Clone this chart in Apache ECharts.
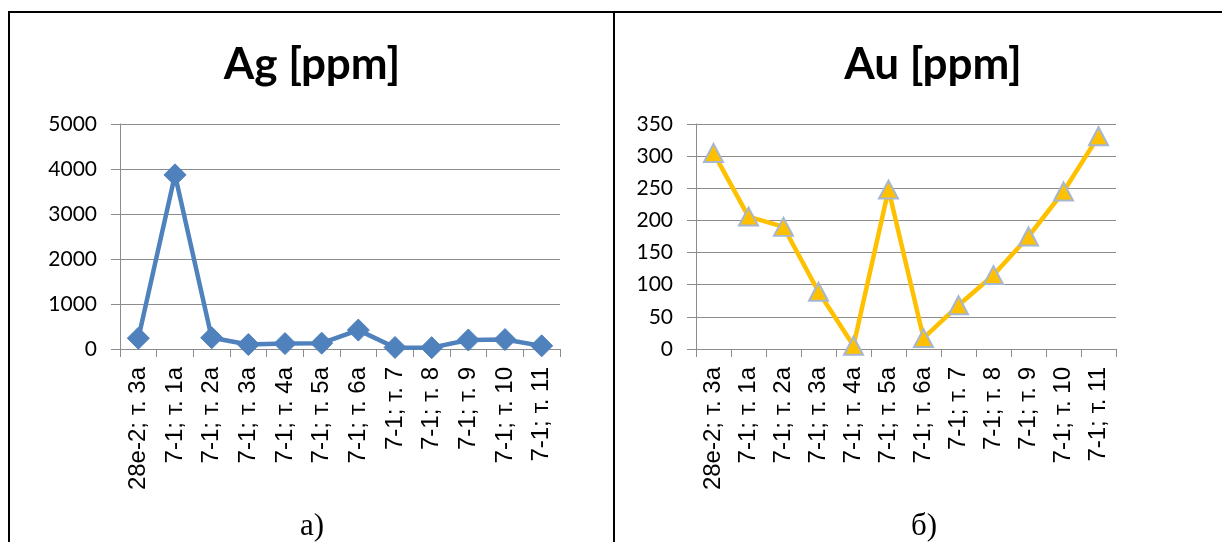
<!DOCTYPE html>
<html>
<head>
<meta charset="utf-8">
<script src="https://cdn.jsdelivr.net/npm/echarts@6/dist/echarts.min.js"></script>
<style>
  html, body { margin: 0; padding: 0; background: #fff; }
  #chart { width: 1222px; height: 542px; }
</style>
</head>
<body>
<div id="chart"></div>
<script>
// Sampling points (same for both panels)
const sampleLabels = ['28е-2; т. 3а', '7-1; т. 1а', '7-1; т. 2а', '7-1; т. 3а', '7-1; т. 4а', '7-1; т. 5а',
  '7-1; т. 6а', '7-1; т. 7', '7-1; т. 8', '7-1; т. 9', '7-1; т. 10', '7-1; т. 11'];

// Silver content, ppm
const agValues = [240, 3870, 250, 100, 120, 130, 420, 35, 30, 200, 210, 70];
// Gold content, ppm
const auValues = [305, 206, 190, 89, 5, 248, 17, 68, 115, 175, 245, 331];

const panelTitles = ['Ag [ppm]', 'Au [ppm]'];
const panelCaptions = ['а)', 'б)'];

const chart = echarts.init(document.getElementById('chart'), null, { renderer: 'canvas' });

const gridColor = '#8c8c8c';
const valueFont = 'Lato, Carlito, "Noto Sans", sans-serif';
const catFont = '"Liberation Sans", Arial, sans-serif';

function catAxis(gridIndex) {
  return {
    type: 'category',
    gridIndex,
    data: sampleLabels,
    boundaryGap: true,
    axisLine: { lineStyle: { color: gridColor, width: 1 } },
    axisTick: { show: true, length: 8, alignWithLabel: false, lineStyle: { color: gridColor } },
    axisLabel: {
      interval: 0, rotate: 90, margin: 18,
      fontFamily: catFont, fontSize: 24, color: '#000'
    },
    splitLine: { show: false }
  };
}

function valAxis(gridIndex, max, interval) {
  return {
    type: 'value',
    gridIndex,
    min: 0, max, interval,
    axisLine: { show: true, lineStyle: { color: gridColor, width: 1 } },
    axisTick: { show: true, length: 9, lineStyle: { color: gridColor } },
    axisLabel: { margin: 23, fontFamily: valueFont, fontSize: 21, color: '#000',
      formatter: (v) => String(v) },
    splitLine: { show: true, lineStyle: { color: gridColor, width: 1 } }
  };
}

const option = {
  backgroundColor: '#ffffff',
  animation: false,
  title: [
    { text: panelTitles[0], left: 307, top: 38, textAlign: 'center',
      textStyle: { fontFamily: valueFont, fontWeight: 'bold', fontSize: 44, color: '#000' } },
    { text: panelTitles[1], left: 928, top: 38, textAlign: 'center',
      textStyle: { fontFamily: valueFont, fontWeight: 'bold', fontSize: 44, color: '#000' } }
  ],
  grid: [
    { left: 120, top: 124, width: 440, height: 225 },
    { left: 696, top: 124, width: 420, height: 225 }
  ],
  xAxis: [catAxis(0), catAxis(1)],
  yAxis: [valAxis(0, 5000, 1000), valAxis(1, 350, 50)],
  series: [
    {
      type: 'line', xAxisIndex: 0, yAxisIndex: 0,
      data: agValues,
      symbol: 'diamond', symbolSize: 22,
      lineStyle: { color: '#4f81bd', width: 4.5 },
      itemStyle: { color: '#4f81bd', borderColor: '#4f81bd', borderWidth: 1 }
    },
    {
      type: 'line', xAxisIndex: 1, yAxisIndex: 1,
      data: auValues,
      symbol: 'triangle', symbolSize: [19, 18],
      lineStyle: { color: '#ffc000', width: 4.5 },
      itemStyle: { color: '#ffc000', borderColor: '#a7b7d0', borderWidth: 2 }
    }
  ],
  graphic: [
    // panel frame
    { type: 'line', shape: { x1: 8, y1: 12, x2: 1222, y2: 12 }, style: { stroke: '#000', lineWidth: 2 } },
    { type: 'line', shape: { x1: 9, y1: 11, x2: 9, y2: 542 }, style: { stroke: '#000', lineWidth: 2 } },
    { type: 'line', shape: { x1: 614, y1: 11, x2: 614, y2: 542 }, style: { stroke: '#000', lineWidth: 2 } },
    // panel captions
    { type: 'text', x: 312, y: 527,
      style: { text: panelCaptions[0], textAlign: 'center', textVerticalAlign: 'middle',
        font: '31px "Liberation Serif", "Times New Roman", serif', fill: '#000' } },
    { type: 'text', x: 924, y: 527,
      style: { text: panelCaptions[1], textAlign: 'center', textVerticalAlign: 'middle',
        font: '31px "Liberation Serif", "Times New Roman", serif', fill: '#000' } }
  ]
};

chart.setOption(option);
</script>
</body>
</html>
